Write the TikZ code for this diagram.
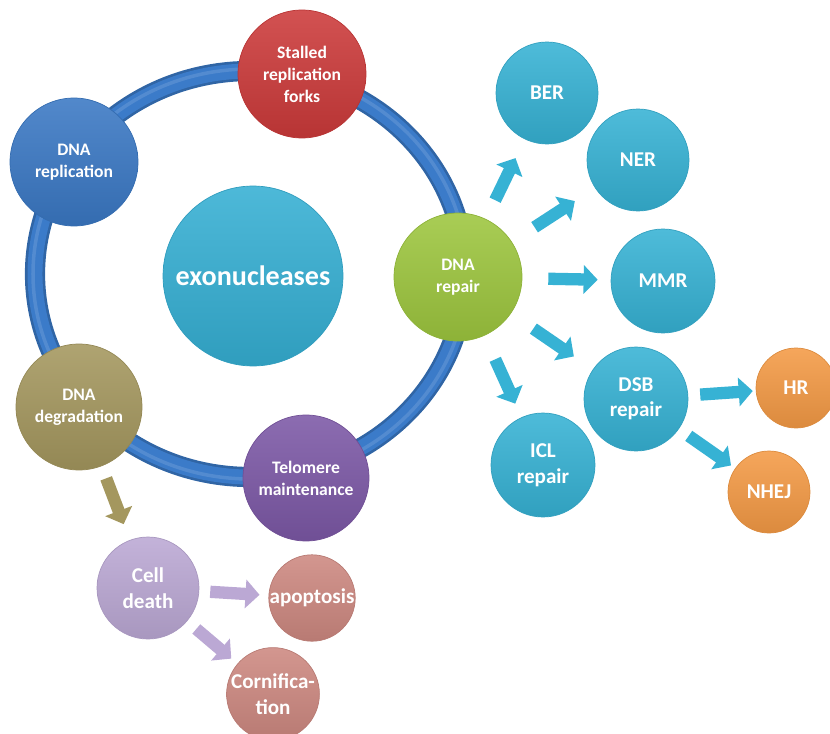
\documentclass[tikz,border=0pt]{standalone}
\usepackage{fontspec}
\setmainfont{Carlito}
\usetikzlibrary{arrows.meta}

\definecolor{ringblue}{HTML}{3B7BC9}
\definecolor{exocyan}{HTML}{35AFD3}
\definecolor{leafcyan}{HTML}{36B2D4}
\definecolor{forkred}{HTML}{CC3A3A}
\definecolor{repblue}{HTML}{3A78C4}
\definecolor{degolive}{HTML}{A4975E}
\definecolor{telpurple}{HTML}{7C58A6}
\definecolor{repgreen}{HTML}{9DC63E}
\definecolor{dsborange}{HTML}{F49A45}
\definecolor{deathlilac}{HTML}{BBA8D4}
\definecolor{fatepink}{HTML}{CD8880}

\tikzset{
    bubble/.style={circle, inner sep=0pt, align=center, text=white,
        top color=#1!88!white, bottom color=#1!90!black, draw=#1!90!black, thin},
    ringtext/.style={font=\fontsize{10}{12.5}\selectfont\bfseries},
    leaftext/.style={font=\fontsize{12}{14.5}\selectfont\bfseries},
    blockarrow/.style={line width=7pt, draw=#1,
        -{Triangle[length=8pt,width=16pt]}}
}

\begin{document}
\begin{tikzpicture}[x=0.02cm, y=-0.02cm]
        \clip (0,0) rectangle (830,733);

        % Draw the ring behind the central bubbles
        \draw[line width=11.5pt, ringblue!82!black] (250,274) ellipse [x radius=215, y radius=203];
        \draw[line width=8.5pt, ringblue] (250,274) ellipse [x radius=215, y radius=203];
        \draw[line width=2pt, ringblue!88!white] (250,274) ellipse [x radius=217, y radius=205];

        % Draw the centre and the bubbles on the ring
        \node[bubble=exocyan, minimum size=3.6cm, font=\fontsize{16}{19}\selectfont\bfseries] (exo) at (253,276) {exonucleases};
        \node[bubble=forkred, ringtext, minimum size=2.56cm] (forks) at (302,74) {Stalled\\replication\\forks};
        \node[bubble=repblue, ringtext, minimum size=2.56cm] (replication) at (74,162) {DNA\\replication};
        \node[bubble=degolive, ringtext, minimum size=2.52cm] (degradation) at (79,407) {DNA\\degradation};
        \node[bubble=telpurple, ringtext, minimum size=2.52cm] (telomere) at (306,478) {Telomere\\maintenance};
        \node[bubble=repgreen, ringtext, minimum size=2.56cm] (repair) at (458,277) {DNA\\repair};

        % Draw the repair pathways
        \node[bubble=leafcyan, leaftext, minimum size=2.04cm] (ber) at (547,93) {BER};
        \node[bubble=leafcyan, leaftext, minimum size=2.04cm] (ner) at (638,160) {NER};
        \node[bubble=leafcyan, leaftext, minimum size=2.08cm] (mmr) at (663,281) {MMR};
        \node[bubble=leafcyan, leaftext, minimum size=2.08cm] (dsb) at (636,399) {DSB\\repair};
        \node[bubble=leafcyan, leaftext, minimum size=2.08cm] (icl) at (543,465) {ICL\\repair};
        \node[bubble=dsborange, leaftext, minimum size=1.6cm] (hr) at (796,388) {HR};
        \node[bubble=dsborange, leaftext, minimum size=1.64cm] (nhej) at (769,492) {NHEJ};

        % Draw the cell death branch
        \node[bubble=deathlilac, leaftext, minimum size=2.04cm] (death) at (148,588) {Cell\\death};
        \node[bubble=fatepink, leaftext, minimum size=1.64cm] (apoptosis) at (312,598) {apoptosis};
        \node[bubble=fatepink, leaftext, minimum size=1.68cm] (cornification) at (273,694) {Cornifica-\\tion};

        % Arrows out of DNA repair
        \draw[blockarrow=leafcyan, shorten <=0.42cm, shorten >=0.42cm] (repair) -- (ber);
        \draw[blockarrow=leafcyan, shorten <=0.54cm, shorten >=0.48cm] (repair) -- (ner);
        \draw[blockarrow=leafcyan, shorten <=0.52cm, shorten >=0.26cm] (repair) -- (mmr);
        \draw[blockarrow=leafcyan, shorten <=0.54cm, shorten >=0.46cm] (repair) -- (dsb);
        \draw[blockarrow=leafcyan, shorten <=0.52cm, shorten >=0.3cm] (repair) -- (icl);
        \draw[blockarrow=leafcyan, shorten <=0.24cm, shorten >=0.06cm] (dsb) -- (hr);
        \draw[blockarrow=leafcyan, shorten <=0.24cm, shorten >=0.1cm] (dsb) -- (nhej);

        % Arrows towards cell death
        \draw[blockarrow=degolive, shorten <=0.26cm, shorten >=0.34cm] (degradation) -- (death);
        \draw[blockarrow=deathlilac, shorten <=0.22cm, shorten >=0.18cm] (death) -- (apoptosis);
        \draw[blockarrow=deathlilac, shorten <=0.24cm, shorten >=0.16cm] (death) -- (cornification);
    \end{tikzpicture}
\end{document}
